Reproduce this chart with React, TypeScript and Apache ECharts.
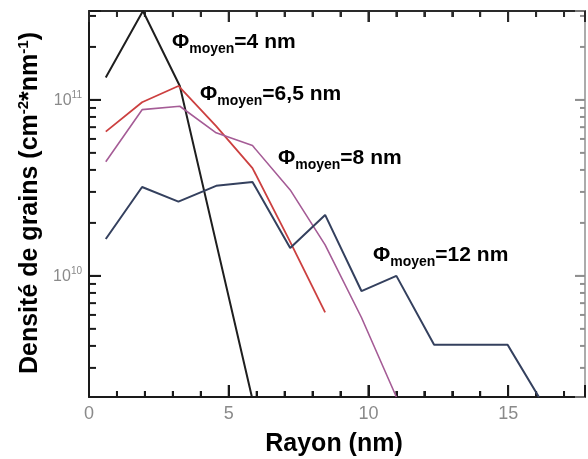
import React, { useEffect, useRef } from 'react';
import * as echarts from 'echarts';

// ---- data ----
const x4 = [0.6, 1.93, 3.25, 5.83];
const y4 = [1.34e11, 3.2e11, 1.2e11, 2.05e9];

const x65 = [0.6, 1.9, 3.2, 4.55, 5.85, 7.2, 8.45];
const y65 = [6.6e10, 9.7e10, 1.2e11, 7.1e10, 4.1e10, 1.56e10, 6.2e9];

const x8 = [0.6, 1.9, 3.25, 4.55, 5.85, 7.2, 8.45, 9.75, 11.0];
const y8 = [4.45e10, 8.8e10, 9.2e10, 6.5e10, 5.5e10, 3.08e10, 1.5e10, 5.8e9, 2.05e9];

const x12 = [0.6, 1.9, 3.2, 4.55, 5.85, 7.2, 8.45, 9.75, 11.0, 12.35, 13.65, 14.98, 16.1];
const y12 = [1.62e10, 3.2e10, 2.64e10, 3.25e10, 3.42e10, 1.44e10, 2.22e10, 8.2e9, 1.0e10, 4.06e9, 4.06e9, 4.06e9, 2.05e9];

const seriesNames = ['4 nm', '6,5 nm', '8 nm', '12 nm'];

const xMin = 0;
const xMax = 17.75;
const yMin = 2.05e9;
const yMax = 3.2e11;

const xMajorTicks = [5, 10, 15];
const xMinorTicks = [1, 2, 3, 4, 6, 7, 8, 9, 11, 12, 13, 14, 16, 17];
const yMajorTicks = [1e10, 1e11];
const yMinorTicks = [
  3e9, 4e9, 5e9, 6e9, 7e9, 8e9, 9e9,
  2e10, 3e10, 4e10, 5e10, 6e10, 7e10, 8e10, 9e10,
  2e11, 3e11,
];

const F = '"Liberation Sans", Arial, Helvetica, sans-serif';

const zip = (xs: number[], ys: number[]) => xs.map((x, i) => [x, ys[i]]);

export default function App() {
  const ref = useRef<HTMLDivElement>(null);

  useEffect(() => {
    if (!ref.current) return;
    const chart = echarts.init(ref.current, null, { renderer: 'svg' });

    const dark = '#1a1a1a';
    const light = '#8f8f8f';

    const isPow10 = (v: number) => {
      const l = Math.log10(v);
      return Math.abs(l - Math.round(l)) < 1e-6;
    };

    const xCommon = { type: 'value', min: xMin, max: xMax, splitLine: { show: false } };

    chart.setOption({
      animation: false,
      grid: { left: 89, top: 11, right: 2, bottom: 62 },
      xAxis: [
        {
          ...xCommon,
          position: 'bottom',
          interval: 5,
          axisLine: { show: true, onZero: false, lineStyle: { color: dark, width: 2 } },
          axisTick: { show: true, inside: true, length: 12, lineStyle: { color: dark, width: 2 } },
          axisLabel: {
            show: true,
            margin: 7,
            color: '#8a8a8a',
            fontSize: 18,
            fontFamily: F,
            formatter: (v: number) => (Math.abs(v % 5) < 1e-9 ? String(v) : ''),
          },
        },
        {
          ...xCommon,
          position: 'bottom',
          interval: 1,
          axisLine: { show: false },
          axisTick: { show: true, inside: true, length: 6, lineStyle: { color: dark, width: 2 } },
          axisLabel: { show: false },
        },
        {
          ...xCommon,
          position: 'top',
          interval: 1,
          axisLine: { show: true, onZero: false, lineStyle: { color: '#2a2a2a', width: 2 } },
          axisTick: { show: true, inside: true, length: 6, lineStyle: { color: '#2a2a2a', width: 2 } },
          axisLabel: { show: false },
        },
        {
          ...xCommon,
          position: 'top',
          interval: 5,
          axisLine: { show: false },
          axisTick: { show: true, inside: true, length: 11, lineStyle: { color: '#2a2a2a', width: 2 } },
          axisLabel: { show: false },
        },
      ],
      yAxis: [
        {
          type: 'log',
          logBase: 10,
          min: yMin,
          max: yMax,
          position: 'left',
          splitLine: { show: false },
          axisLine: { show: true, onZero: false, lineStyle: { color: dark, width: 2 } },
          axisTick: { show: true, inside: true, length: 12, lineStyle: { color: dark, width: 2 } },
          axisLabel: {
            show: true,
            margin: 7,
            color: '#8a8a8a',
            fontFamily: F,
            formatter: (v: number) => {
              if (!isPow10(v)) return '';
              return '{a|10}{s|' + Math.round(Math.log10(v)) + '}';
            },
            rich: {
              a: { fontSize: 16, color: '#8a8a8a', fontFamily: F },
              s: { fontSize: 10, color: '#8a8a8a', fontFamily: F, padding: [0, 0, 11, 0] },
            },
          },
        },
        {
          type: 'log',
          logBase: 10,
          min: yMin,
          max: yMax,
          position: 'right',
          splitLine: { show: false },
          axisLine: { show: true, onZero: false, lineStyle: { color: light, width: 1.5 } },
          axisTick: { show: true, inside: true, length: 10, lineStyle: { color: light, width: 1.5 } },
          axisLabel: { show: false },
        },
      ],
      series: [
        { name: seriesNames[0], type: 'line', data: zip(x4, y4), symbol: 'none', lineStyle: { color: '#1e1e1e', width: 2 }, itemStyle: { color: '#1e1e1e' } },
        { name: seriesNames[1], type: 'line', data: zip(x65, y65), symbol: 'none', lineStyle: { color: '#cc4040', width: 1.8 }, itemStyle: { color: '#cc4040' } },
        { name: seriesNames[2], type: 'line', data: zip(x8, y8), symbol: 'none', lineStyle: { color: '#a55c96', width: 1.6 }, itemStyle: { color: '#a55c96' } },
        { name: seriesNames[3], type: 'line', data: zip(x12, y12), symbol: 'none', lineStyle: { color: '#34405e', width: 2 }, itemStyle: { color: '#34405e' } },
      ],
    });

    // extra tick marks (log minor ticks and a filled-rect copy of the x ticks), placed through the axes' scales
    const px = (v: number) => chart.convertToPixel({ xAxisIndex: 0 }, v) as number;
    const py = (v: number) => chart.convertToPixel({ yAxisIndex: 0 }, v) as number;
    const xl = px(xMin);
    const xr = px(xMax);
    const yb = py(yMin);
    const yt = py(yMax);

    const vbar = (x: number, y: number, h: number, fill: string) => ({
      type: 'rect',
      shape: { x: x - 1, y, width: 2, height: h },
      style: { fill },
    });
    const hbar = (x: number, y: number, w: number, fill: string) => ({
      type: 'rect',
      shape: { x, y: y - 1, width: w, height: 2 },
      style: { fill },
    });

    const marks: any[] = [];
    xMinorTicks.forEach((v) => {
      const x = px(v);
      marks.push(vbar(x, yb - 6, 6, dark));
      marks.push(vbar(x, yt, 6, '#2a2a2a'));
    });
    xMajorTicks.forEach((v) => {
      const x = px(v);
      marks.push(vbar(x, yb - 12, 12, dark));
      marks.push(vbar(x, yt, 11, '#2a2a2a'));
    });
    yMinorTicks.forEach((v) => {
      const y = py(v);
      marks.push(hbar(xl, y, 7, dark));
      marks.push(hbar(xr - 5, y, 5, light));
    });
    yMajorTicks.forEach((v) => {
      const y = py(v);
      marks.push(hbar(xl, y, 12, dark));
      marks.push(hbar(xr - 10, y, 10, light));
    });

    const labelRich = {
      p: { fontSize: 21, fontWeight: 'bold', fontFamily: F, fill: '#000' },
      s: { fontSize: 14, fontWeight: 'bold', fontFamily: F, fill: '#000', padding: [15, 0, 0, 0] },
      m: { fontSize: 21, fontWeight: 'bold', fontFamily: F, fill: '#000' },
    };
    const phiLabel = (x: number, y: number, name: string) => ({
      type: 'text',
      x,
      y,
      style: {
        text: '{p|Φ}{s|moyen}{m|=' + name + '}',
        rich: labelRich,
        align: 'left',
        verticalAlign: 'middle',
      },
    });

    chart.setOption({
      graphic: [
        ...marks,
        phiLabel(172, 40, seriesNames[0]),
        phiLabel(200, 92, seriesNames[1]),
        phiLabel(278, 156, seriesNames[2]),
        phiLabel(373, 253, seriesNames[3]),
        {
          type: 'text',
          x: 334,
          y: 442,
          style: {
            text: 'Rayon (nm)',
            fontSize: 25,
            fontWeight: 'bold',
            fontFamily: F,
            fill: '#000',
            align: 'center',
            verticalAlign: 'middle',
          },
        },
        {
          type: 'text',
          x: 28,
          y: 203,
          rotation: Math.PI / 2,
          style: {
            text: '{t|Densité de grains (cm}{s|-2}{t|*nm}{s|-1}{t|)}',
            rich: {
              t: { fontSize: 25, fontWeight: 'bold', fontFamily: F, fill: '#000' },
              s: { fontSize: 15, fontWeight: 'bold', fontFamily: F, fill: '#000', padding: [0, 0, 12, 0] },
            },
            align: 'center',
            verticalAlign: 'middle',
          },
        },
      ],
    });

    return () => chart.dispose();
  }, []);

  return <div ref={ref} style={{ position: 'fixed', left: 0, top: 0, width: 588, height: 459 }} />;
}
